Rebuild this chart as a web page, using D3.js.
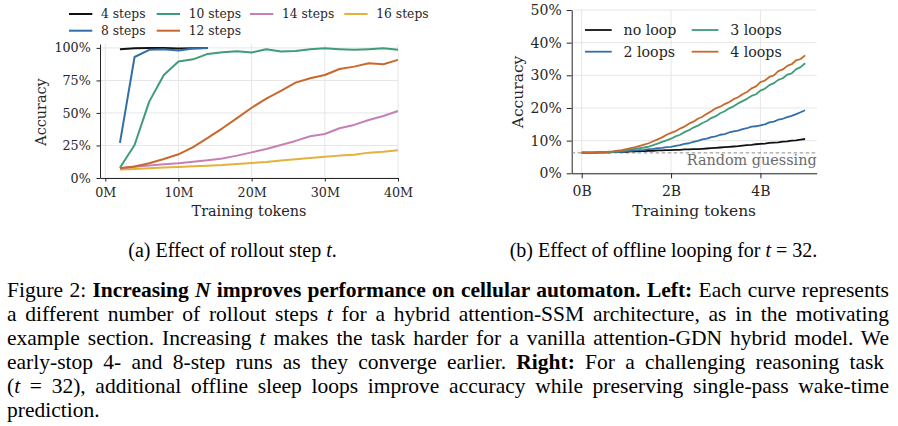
<!DOCTYPE html>
<html>
<head>
<meta charset="utf-8">
<script src="https://cdn.jsdelivr.net/npm/d3@7"></script>
<style>
  body { margin: 0; background: #fff; }
  svg { display: block; }
  .plot text { font-family: "DejaVu Serif", serif; fill: #262626; }
  .cap text { font-family: "Liberation Serif", "Times New Roman", serif; fill: #000; }
</style>
</head>
<body>
<svg id="fig" width="898" height="426"></svg>
<script>
// ---- left panel: rollout steps (x in millions of tokens, y in %) ----
const stepTokens = [2, 4, 6, 8, 10, 12, 14, 16, 18, 20, 22, 24, 26, 28, 30, 32, 34, 36, 38, 40];
const steps4  = [99.0, 99.7, 99.9, 100, 99.6, 99.8, 100];
const steps8  = [27.0, 93.0, 98.5, 99.0, 98.0, 99.5, 100];
const steps10 = [7.9, 25.4, 58.7, 79.2, 89.5, 91.2, 95.4, 96.7, 97.4, 96.4, 99.0, 97.2, 97.7, 99.0, 99.7, 99.0, 98.5, 99.0, 99.7, 98.5];
const steps12 = [7.5, 8.8, 11.3, 14.6, 18.2, 23.8, 30.8, 38.2, 46.0, 54.0, 61.0, 67.0, 73.3, 76.7, 79.2, 83.8, 85.6, 88.2, 87.4, 90.8];
const steps14 = [7.5, 8.6, 9.6, 10.5, 11.3, 12.4, 13.6, 15.0, 17.2, 19.7, 22.3, 25.4, 28.5, 32.1, 33.8, 38.2, 40.8, 44.6, 47.7, 51.5];
const steps16 = [6.5, 7.0, 7.5, 8.0, 8.5, 9.0, 9.5, 10.0, 10.8, 11.5, 12.3, 13.4, 14.5, 15.3, 16.3, 17.2, 17.8, 19.5, 20.1, 21.4];
const leftXTicks = [0, 10, 20, 30, 40];
const leftYTicks = [0, 25, 50, 75, 100];

// ---- right panel: offline looping (x in billions of tokens, y in %) ----
const loopTokens = [0.0, 0.1, 0.2, 0.3, 0.4, 0.5, 0.6, 0.7, 0.8, 0.9, 1.0, 1.1, 1.2, 1.3, 1.4, 1.5, 1.6, 1.7, 1.8, 1.9,
  2.0, 2.1, 2.2, 2.3, 2.4, 2.5, 2.6, 2.7, 2.8, 2.9, 3.0, 3.1, 3.2, 3.3, 3.4, 3.5, 3.6, 3.7, 3.8, 3.9,
  4.0, 4.1, 4.2, 4.3, 4.4, 4.5, 4.6, 4.7, 4.8, 4.9, 5.0];
const noLoop = [6.3, 6.3, 6.3, 6.3, 6.4, 6.4, 6.4, 6.5, 6.5, 6.6, 6.6, 6.7, 6.7, 6.8, 6.8, 6.9, 6.9, 7.0, 7.0, 7.1,
  7.1, 7.2, 7.2, 7.3, 7.3, 7.4, 7.4, 7.5, 7.6, 7.7, 7.8, 7.9, 8.0, 8.1, 8.2, 8.3, 8.5, 8.6, 8.7, 8.9,
  9.0, 9.1, 9.3, 9.4, 9.5, 9.7, 9.8, 10.0, 10.1, 10.3, 10.5];
const loops2 = [6.3, 6.3, 6.3, 6.3, 6.4, 6.4, 6.4, 6.5, 6.5, 6.6, 6.8, 6.9, 7.0, 7.1, 7.2, 7.4, 7.5, 7.7, 7.8, 8.0,
  8.1, 8.4, 8.6, 9.0, 9.2, 9.6, 9.9, 10.4, 10.6, 11.1, 11.3, 11.8, 12.0, 12.5, 12.8, 13.1, 13.5, 13.8, 14.3, 14.4,
  14.7, 15.0, 15.6, 15.8, 16.4, 16.7, 17.2, 17.6, 18.1, 18.7, 19.3];
const loops3 = [6.3, 6.3, 6.3, 6.3, 6.4, 6.4, 6.5, 6.6, 6.7, 6.9, 7.1, 7.3, 7.5, 7.7, 7.9, 8.2, 8.6, 9.1, 9.6, 10.1,
  10.6, 11.3, 11.8, 12.6, 13.2, 14.0, 14.6, 15.4, 16.0, 16.9, 17.5, 18.4, 19.0, 19.9, 20.5, 21.4, 22.1, 22.8, 23.7, 24.2,
  25.3, 25.9, 27.0, 27.6, 28.6, 29.1, 30.2, 30.6, 31.9, 32.5, 33.7];
const loops4 = [6.3, 6.3, 6.3, 6.4, 6.4, 6.5, 6.6, 6.7, 6.9, 7.1, 7.4, 7.7, 8.0, 8.4, 8.8, 9.2, 9.8, 10.4, 11.0, 11.8,
  12.4, 12.9, 13.7, 14.3, 15.2, 15.8, 16.7, 17.3, 18.2, 19.0, 19.9, 20.4, 21.2, 21.8, 22.7, 23.3, 24.2, 24.9, 26.0, 26.6,
  27.9, 28.4, 29.5, 30.0, 31.3, 31.8, 32.9, 33.4, 34.6, 35.0, 36.1];
const rightXTicks = [0, 2, 4];
const rightYTicks = [0, 10, 20, 30, 40, 50];
const randomGuess = 6.25;

const colors = {
  black: "#111111", blue: "#336ea6", green: "#3f9c78",
  orange: "#c9682c", pink: "#c680b6", gold: "#e3b23c"
};

const svg = d3.select("#fig");

function drawPanel(opts) {
  const g = svg.append("g").attr("class", "plot");
  const x = d3.scaleLinear().domain(opts.xDomain).range(opts.xRange);
  const y = d3.scaleLinear().domain(opts.yDomain).range(opts.yRange);

  // grid
  g.append("g").selectAll("line").data(opts.xTicks).join("line")
    .attr("x1", d => x(d)).attr("x2", d => x(d))
    .attr("y1", opts.yRange[0]).attr("y2", opts.yRange[1])
    .attr("stroke", "#e6e6e6").attr("stroke-width", 1);
  g.append("g").selectAll("line").data(opts.yTicks).join("line")
    .attr("x1", opts.xRange[0]).attr("x2", opts.xRange[1])
    .attr("y1", d => y(d)).attr("y2", d => y(d))
    .attr("stroke", "#e6e6e6").attr("stroke-width", 1);

  // axes
  const xAxis = d3.axisBottom(x).tickValues(opts.xTicks)
    .tickFormat(opts.xFormat).tickSizeInner(opts.tick).tickSizeOuter(0).tickPadding(opts.xPad);
  const yAxis = d3.axisLeft(y).tickValues(opts.yTicks)
    .tickFormat(d => d + "%").tickSizeInner(opts.tick).tickSizeOuter(0).tickPadding(opts.yPad);
  const gx = g.append("g").attr("transform", `translate(0,${opts.yRange[0]})`).call(xAxis);
  const gy = g.append("g").attr("transform", `translate(${opts.xRange[0]},0)`).call(yAxis);
  [gx, gy].forEach(a => {
    a.selectAll("text").style("font-size", opts.font + "px").attr("fill", "#262626");
    a.selectAll("line, path").attr("stroke", "#262626").attr("stroke-width", 1);
  });

  // labels
  g.append("text").attr("x", (opts.xRange[0] + opts.xRange[1]) / 2 + opts.xLabelDx).attr("y", opts.xLabelY)
    .attr("text-anchor", "middle").style("font-size", opts.labelFont + "px").text("Training tokens");
  g.append("text").attr("transform", `translate(${opts.yLabelX},${opts.yLabelY}) rotate(-90)`)
    .attr("text-anchor", "middle").attr("dy", "0.35em").style("font-size", opts.labelFont + "px").text("Accuracy");

  return { g, x, y };
}

// ---------- left panel ----------
const L = drawPanel({
  xDomain: [-0.724, 40], xRange: [100, 398],
  yDomain: [0, 103], yRange: [178, 44],
  xTicks: leftXTicks, yTicks: leftYTicks,
  xFormat: d => d + "M", tick: 3.5, xPad: 6, yPad: 5.8, font: 12.7, labelFont: 14.4,
  xLabelY: 216, xLabelDx: 0, yLabelX: 41, yLabelY: 112
});

const leftSeries = [
  { name: "16 steps", values: steps16, color: colors.gold },
  { name: "14 steps", values: steps14, color: colors.pink },
  { name: "12 steps", values: steps12, color: colors.orange },
  { name: "10 steps", values: steps10, color: colors.green },
  { name: "4 steps", values: steps4, color: colors.black },
  { name: "8 steps", values: steps8, color: colors.blue }
];
const lineL = d3.line().x(d => L.x(d[0])).y(d => L.y(d[1]));
L.g.append("g").selectAll("path").data(leftSeries).join("path")
  .attr("d", s => lineL(s.values.map((v, i) => [stepTokens[i], v])))
  .attr("fill", "none").attr("stroke", s => s.color).attr("stroke-width", 2)
  .attr("stroke-linejoin", "round");

// legend (column-major, 4 columns)
const leftLegend = [
  { name: "4 steps", color: colors.black, col: 0, row: 0 },
  { name: "8 steps", color: colors.blue, col: 0, row: 1 },
  { name: "10 steps", color: colors.green, col: 1, row: 0 },
  { name: "12 steps", color: colors.orange, col: 1, row: 1 },
  { name: "14 steps", color: colors.pink, col: 2, row: 0 },
  { name: "16 steps", color: colors.gold, col: 3, row: 0 }
];
const legColX = [69, 156.7, 250, 344.3];
const legL = L.g.append("g").selectAll("g").data(leftLegend).join("g")
  .attr("transform", d => `translate(${legColX[d.col]},${14 + d.row * 16.7})`);
legL.append("line").attr("x1", 0).attr("x2", 23.3)
  .attr("stroke", d => d.color).attr("stroke-width", 2);
legL.append("text").attr("x", 32).attr("dy", "0.36em").style("font-size", "12.3px").text(d => d.name);

// ---------- right panel ----------
const R = drawPanel({
  xDomain: [-0.224, 5.26], xRange: [571.7, 816.7],
  yDomain: [0, 50], yRange: [173.3, 10],
  xTicks: rightXTicks, yTicks: rightYTicks,
  xFormat: d => d + "B", tick: 5, xPad: 8, yPad: 5, font: 14, labelFont: 15.5,
  xLabelY: 215.5, xLabelDx: 0, yLabelX: 517.5, yLabelY: 92
});

R.g.append("line")
  .attr("x1", 571.7).attr("x2", 816.7)
  .attr("y1", R.y(randomGuess)).attr("y2", R.y(randomGuess))
  .attr("stroke", "#8c8c8c").attr("stroke-width", 1).attr("stroke-dasharray", "3.5,2.5");
R.g.append("text").attr("x", 816.7).attr("y", R.y(randomGuess) + 12)
  .attr("text-anchor", "end").style("font-size", "14.4px")
  .style("fill", "#6a6a6a").text("Random guessing");

const rightSeries = [
  { name: "no loop", values: noLoop, color: colors.black },
  { name: "2 loops", values: loops2, color: colors.blue },
  { name: "3 loops", values: loops3, color: colors.green },
  { name: "4 loops", values: loops4, color: colors.orange }
];
const lineR = d3.line().x(d => R.x(d[0])).y(d => R.y(d[1]));
R.g.append("g").selectAll("path").data(rightSeries).join("path")
  .attr("d", s => lineR(s.values.map((v, i) => [loopTokens[i], v])))
  .attr("fill", "none").attr("stroke", s => s.color).attr("stroke-width", 1.8)
  .attr("stroke-linejoin", "round");

const legR = R.g.append("g").selectAll("g").data(rightSeries).join("g")
  .attr("transform", (d, i) => `translate(${[585, 691.7][Math.floor(i / 2)]},${30 + (i % 2) * 21.7})`);
legR.append("line").attr("x1", 0).attr("x2", 26.7)
  .attr("stroke", d => d.color).attr("stroke-width", 1.8);
legR.append("text").attr("x", 38.5).attr("dy", "0.36em").style("font-size", "14.2px").text(d => d.name);

// ---------- captions ----------
const cap = svg.append("g").attr("class", "cap");

function richText(parent, x, y, segs, size, anchor) {
  const t = parent.append("text").attr("x", x).attr("y", y)
    .attr("text-anchor", anchor || "start").style("font-size", size + "px");
  segs.forEach(s => {
    t.append("tspan").text(s[0])
      .style("font-weight", s[1] && s[1].includes("b") ? "bold" : null)
      .style("font-style", s[1] && s[1].includes("i") ? "italic" : null);
  });
  return t;
}

richText(cap, 232.5, 256.7, [["(a) Effect of rollout step "], ["t", "i"], ["."]], 20, "middle");
richText(cap, 663.5, 256.7, [["(b) Effect of offline looping for "], ["t", "i"], [" = 32."]], 20, "middle");

const captionLines = [
  [["Figure 2: "], ["Increasing ", "b"], ["N", "bi"], [" improves performance on cellular automaton. Left:", "b"], [" Each curve represents"]],
  [["a different number of rollout steps "], ["t", "i"], [" for a hybrid attention-SSM architecture, as in the motivating"]],
  [["example section. Increasing "], ["t", "i"], [" makes the task harder for a vanilla attention-GDN hybrid model. We"]],
  [["early-stop 4- and 8-step runs as they converge earlier.  "], ["Right:", "b"], [" For a challenging reasoning task"]],
  [["("], ["t", "i"], [" = 32), additional offline sleep loops improve accuracy while preserving single-pass wake-time"]],
  [["prediction."]]
];
const capLeft = 7, capRight = 889;
captionLines.forEach((segs, i) => {
  const t = richText(cap, capLeft, 296.6 + i * 24, segs, 21.5);
  if (i < captionLines.length - 1) {
    const w = t.node().getComputedTextLength();
    const spaces = segs.map(s => s[0]).join("").split(" ").length - 1;
    t.style("word-spacing", ((capRight - capLeft - w) / spaces) + "px");
  }
});
</script>
</body>
</html>
